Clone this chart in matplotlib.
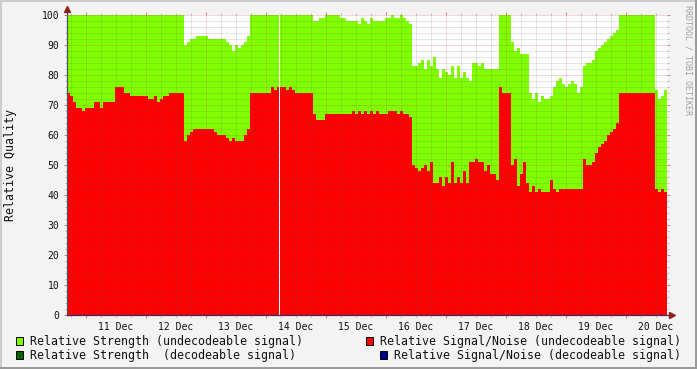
import matplotlib
matplotlib.use("Agg")
import matplotlib.pyplot as plt
import numpy as np
from matplotlib.lines import Line2D
from matplotlib.patches import Rectangle
from matplotlib.ticker import MultipleLocator

plt.rcParams['font.family'] = ['DejaVu Sans Mono']

# time axis: days since 11 Dec 00:00, one value every 72 min from 10 Dec 16:24
t0 = -0.3167
step = 0.05

# relative strength (undecodeable signal), %
strength = [
    100, 100, 100, 100, 100, 100, 100, 100, 100, 100, 100, 100, 100, 100, 100, 100, 100, 100, 100, 100,
    100, 100, 100, 100, 100, 100, 100, 100, 100, 100, 100, 100, 100, 100, 100, 100, 100, 100, 100, 90,
    91, 92, 92, 93, 93, 93, 93, 92, 92, 92, 92, 92, 92, 91, 90, 88, 90, 89, 90, 91,
    93, 100, 100, 100, 100, 100, 100, 100, 100, 100, 100, 100, 100, 100, 100, 100, 100, 100, 100, 100,
    100, 100, 98, 98, 99, 99, 100, 100, 100, 100, 100, 99, 99, 98, 98, 98, 98, 97, 99, 98,
    97, 99, 98, 98, 98, 98, 99, 99, 100, 99, 99, 100, 99, 98, 97, 83, 83, 84, 85, 82,
    85, 83, 86, 82, 79, 82, 81, 80, 83, 79, 83, 79, 81, 79, 78, 84, 84, 83, 84, 82,
    82, 82, 82, 82, 100, 100, 100, 100, 91, 88, 89, 87, 87, 87, 74, 72, 74, 71, 73, 72,
    72, 73, 76, 78, 79, 77, 76, 77, 78, 77, 74, 76, 83, 84, 84, 85, 88, 89, 90, 91,
    92, 93, 94, 95, 100, 100, 100, 100, 100, 100, 100, 100, 100, 100, 100, 100, 75, 72, 73, 75,
]

# relative signal/noise (undecodeable signal), %
snr = [
    74, 73, 71, 69, 69, 68, 69, 69, 69, 71, 71, 69, 71, 71, 71, 71, 76, 76, 76, 74,
    74, 73, 73, 73, 73, 73, 73, 72, 72, 73, 71, 72, 73, 73, 74, 74, 74, 74, 74, 58,
    60, 61, 62, 62, 62, 62, 62, 62, 62, 61, 60, 60, 60, 59, 58, 59, 58, 58, 58, 60,
    62, 74, 74, 74, 74, 74, 74, 74, 76, 75, 76, 76, 76, 75, 76, 75, 74, 74, 74, 74,
    74, 74, 67, 65, 65, 65, 67, 67, 67, 67, 67, 67, 67, 67, 67, 68, 67, 68, 67, 68,
    67, 68, 67, 68, 67, 67, 67, 68, 68, 68, 67, 68, 67, 67, 66, 50, 49, 48, 49, 50,
    48, 51, 44, 44, 46, 43, 46, 44, 51, 44, 46, 44, 48, 44, 51, 51, 52, 51, 51, 48,
    50, 47, 47, 45, 76, 74, 74, 74, 50, 52, 43, 47, 51, 44, 41, 43, 41, 42, 41, 41,
    41, 45, 42, 41, 42, 42, 42, 42, 42, 42, 42, 42, 52, 50, 50, 51, 54, 56, 57, 58,
    60, 61, 62, 64, 74, 74, 74, 74, 74, 74, 74, 74, 74, 74, 74, 74, 42, 41, 42, 41,
]

# one missing RRD row (24 min) on 14 Dec
missing = [3.217]
missing_len = 1 / 60

day_labels = ['11 Dec', '12 Dec', '13 Dec', '14 Dec', '15 Dec',
              '16 Dec', '17 Dec', '18 Dec', '19 Dec', '20 Dec']

legend_labels = ['Relative Strength (undecodeable signal)',
                 'Relative Strength  (decodeable signal)',
                 'Relative Signal/Noise (undecodeable signal)',
                 'Relative Signal/Noise (decodeable signal)']
legend_colors = ['#7FFF00', '#006400', '#FF0000', '#000088']

W, H = 697, 369
fig = plt.figure(figsize=(W / 100, H / 100), dpi=100, facecolor='#F3F3F3')
ax = fig.add_axes([67 / W, 54 / H, 600 / W, 300 / H])
ax.set_facecolor('white')

edges = t0 + step * np.arange(len(strength) + 1)
ax.stairs(strength, edges, fill=True, color='#7FFF00', baseline=0, lw=0, zorder=1)
ax.stairs(snr, edges, fill=True, color='#FF0000', baseline=0, lw=0, zorder=1.1)
for m in missing:
    ax.axvspan(m, m + missing_len, color='white', lw=0, zorder=1.2)

ax.set_xlim(edges[0], edges[-1])
ax.set_ylim(0, 100)

ax.xaxis.set_major_locator(MultipleLocator(1))
ax.xaxis.set_minor_locator(MultipleLocator(0.25))
ax.yaxis.set_major_locator(MultipleLocator(10))
ax.yaxis.set_minor_locator(MultipleLocator(2))
ax.set_axisbelow(False)
ax.grid(which='minor', color='#606060', alpha=0.3, ls=(0, (1, 1)), lw=0.72)
ax.grid(which='major', color='#D02020', alpha=0.35, ls=(0, (1, 1)), lw=0.72)

ax.tick_params(which='both', direction='out', left=True, right=True, top=True, bottom=True,
               labelbottom=False, width=0.72)
ax.tick_params(which='major', length=2.5, color=(0.75, 0.2, 0.2, 0.6))
ax.tick_params(which='minor', length=1.5, color=(0.5, 0.5, 0.5, 0.5))
ax.tick_params(axis='y', which='major', labelsize=7, pad=3, labelcolor='#111111')

sec = ax.secondary_xaxis('bottom')
sec.set_xticks(np.arange(len(day_labels)) + 0.5, day_labels)
sec.tick_params(length=0, pad=5, labelsize=7, labelcolor='#111111')
sec.spines['bottom'].set_visible(False)

for s in ax.spines.values():
    s.set_visible(False)
ax.add_line(Line2D([0, 0], [0, 1 + 6 / 300], transform=ax.transAxes, color='#505060',
                   lw=0.9, clip_on=False, zorder=5))
ax.add_line(Line2D([0, 1 + 5 / 600], [0, 0], transform=ax.transAxes, color='#303060',
                   lw=0.9, clip_on=False, zorder=5))
ax.plot([0], [1 + 6 / 300], marker='^', ms=4, color='#902020', transform=ax.transAxes,
        clip_on=False, zorder=6)
ax.plot([1 + 5 / 600], [0], marker='>', ms=4, color='#902020', transform=ax.transAxes,
        clip_on=False, zorder=6)

fig.text(11 / W, 1 - 165 / H, 'Relative Quality', rotation=90, ha='center', va='center',
         fontsize=8.4, color='#111111')
fig.text(688 / W, 1 - 5 / H, 'RRDTOOL / TOBI OETIKER', rotation=270, ha='center', va='top',
         fontsize=6, color='#A0A0A0')

# legend, laid out like rrdtool's two columns
leg_pos = [(16, 341), (16, 355), (366, 341), (380, 355)]
for (lx, ly), lab, col in zip(leg_pos, legend_labels, legend_colors):
    fig.add_artist(Rectangle((lx / W, 1 - (ly + 4) / H), 7 / W, 8 / H, transform=fig.transFigure,
                             facecolor=col, edgecolor='black', lw=0.7))
    fig.text((lx + 14) / W, 1 - ly / H, lab, ha='left', va='center', fontsize=8.4, color='#111111')

# outer frame
fig.add_artist(Line2D([0, 1], [1 - 1 / H, 1 - 1 / H], transform=fig.transFigure, color='#CCCCCC', lw=1.4))
fig.add_artist(Line2D([1 / W, 1 / W], [0, 1], transform=fig.transFigure, color='#CCCCCC', lw=1.4))
fig.add_artist(Line2D([0, 1], [1 / H, 1 / H], transform=fig.transFigure, color='#999999', lw=1.4))
fig.add_artist(Line2D([1 - 1 / W, 1 - 1 / W], [0, 1], transform=fig.transFigure, color='#999999', lw=1.4))

fig.savefig('out.png', dpi=100, facecolor=fig.get_facecolor())
